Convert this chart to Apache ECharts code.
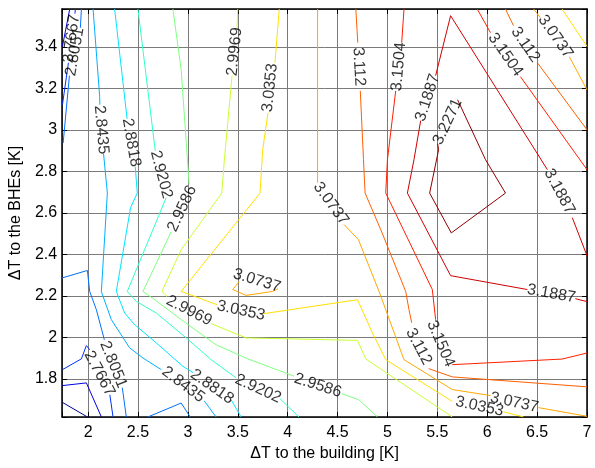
<!DOCTYPE html>
<html>
<head>
<meta charset="utf-8">
<script src="https://cdn.jsdelivr.net/npm/echarts/dist/echarts.min.js"></script>
<style>html,body{margin:0;padding:0;background:#fff}#c{width:595px;height:468px}</style>
</head>
<body>
<div id="c"></div>
<script>
// ---- data (data units) ----
const levels = [2.69, 2.7284, 2.7667, 2.8051, 2.8435, 2.8818, 2.9202, 2.9586, 2.9969, 3.0353, 3.0737, 3.112, 3.1504, 3.1887, 3.2271];

const c2690 = [
  [[1.743,1.687],[1.993,1.617]]
];
const c2728 = [
  [[1.816,3.583],[1.743,3.403]],
  [[1.740,1.768],[1.983,1.781],[2.133,1.617]]
];
const c2767 = [
  [[1.873,3.583],[1.868,3.561]],
  [[1.803,3.324],[1.743,3.122]],
  [[1.743,1.845],[1.933,1.897],[1.983,1.961],[2.016,1.941]],
  [[2.218,1.724],[2.250,1.617]]
];
const c2805 = [
  [[1.933,3.583],[1.923,3.493]],
  [[1.813,3.262],[1.750,2.937]],
  [[1.740,2.287],[1.993,2.323],[2.016,2.222],[2.083,2.134],[2.163,1.989]],
  [[2.343,1.758],[2.383,1.617]],
  [[2.600,1.617],[2.933,1.684],[3.023,1.617]]
];
const c2843 = [
  [[2.050,3.583],[2.116,3.162],[2.118,3.122]],
  [[2.155,2.886],[2.193,2.696],[2.133,2.221],[2.233,2.086],[2.416,1.950],[2.550,1.901],[2.733,1.845]],
  [[3.163,1.695],[3.283,1.617]]
];
const c2882 = [
  [[2.266,3.583],[2.391,3.054]],
  [[2.473,2.823],[2.493,2.696],[2.426,2.626],[2.283,2.222],[2.366,2.118],[2.466,2.062],[2.683,1.974],[2.950,1.861],[3.053,1.830]],
  [[3.433,1.700],[3.533,1.617]]
];
const c2920 = [
  [[2.500,3.583],[2.673,2.900]],
  [[2.783,2.674],[2.393,2.222],[2.483,2.174],[2.683,2.118],[2.983,1.998],[3.233,1.893],[3.483,1.806]],
  [[3.923,1.705],[4.113,1.617]]
];
const c2959 = [
  [[2.850,3.583],[2.933,3.291],[3.013,2.736]],
  [[2.833,2.510],[2.550,2.222],[2.683,2.177],[2.933,2.086],[3.283,1.965],[3.600,1.897],[4.063,1.814]],
  [[4.543,1.729],[4.713,1.700],[4.900,1.617]]
];
const c2997 = [
  [[3.500,3.583],[3.493,3.493]],
  [[3.443,3.262],[3.366,2.857],[3.340,2.696],[2.933,2.423],[2.740,2.222],[2.793,2.197]],
  [[3.233,2.067],[3.583,1.998],[4.700,1.986],[4.783,1.896],[5.650,1.617]]
];
const c3035 = [
  [[3.916,3.583],[3.873,3.324]],
  [[3.803,3.083],[3.750,2.905],[3.723,2.696],[2.933,2.222],[3.293,2.158]],
  [[3.763,2.115],[4.700,2.182],[4.850,2.022],[4.983,1.893],[5.650,1.692]],
  [[6.163,1.642],[6.363,1.617]],
  [[6.750,3.583],[7.000,3.403]]
];
const c3074 = [
  [[4.300,3.583],[4.300,2.746]],
  [[4.566,2.544],[4.710,2.471],[4.916,2.222],[4.983,2.134],[5.166,1.893],[5.650,1.749],[6.033,1.720]],
  [[6.513,1.662],[7.000,1.620]],
  [[6.466,3.583],[6.533,3.541]],
  [[6.823,3.353],[7.000,3.194]],
  [[3.513,2.269],[3.450,2.231],[3.583,2.203],[3.850,2.222],[3.903,2.235]]
];
const c3112 = [
  [[4.683,3.583],[4.703,3.421]],
  [[4.728,3.189],[4.760,2.857],[4.776,2.696],[4.933,2.520],[5.183,2.222],[5.216,2.134],[5.243,2.071]],
  [[5.413,1.850],[5.650,1.810],[7.000,1.762]],
  [[6.183,3.583],[6.263,3.503]],
  [[6.503,3.324],[7.000,3.001]]
];
const c3150 = [
  [[5.166,3.583],[5.143,3.421]],
  [[5.083,3.189],[5.000,2.857],[4.983,2.696],[5.450,2.231],[5.483,2.086]],
  [[5.650,1.869],[6.750,1.896],[7.000,1.925]],
  [[5.900,3.583],[6.033,3.469]],
  [[6.333,3.257],[7.000,2.809]]
];
const c3189 = [
  [[7.000,2.394],[6.853,2.577]],
  [[6.603,2.809],[5.633,3.551],[5.483,3.262]],
  [[5.333,3.045],[5.266,2.857],[5.200,2.696],[5.633,2.298],[6.403,2.231]],
  [[6.883,2.187],[7.000,2.173]]
];
const c3227 = [
  [[5.703,3.146],[5.983,2.857],[6.183,2.696],[5.640,2.504],[5.423,2.696],[5.513,2.905],[5.503,2.934]]
];
const contours = [c2690, c2728, c2767, c2805, c2843, c2882, c2920, c2959, c2997, c3035, c3074, c3112, c3150, c3189, c3227];

// inline contour labels: [x, y, text]
const labelPoints = [
  [1.833,3.440,'2.7667'],[1.868,3.377,'2.8051'],[2.133,3.001,'2.8435'],[2.433,2.939,'2.8818'],
  [2.733,2.785,'2.9202'],[2.943,2.621,'2.9586'],[3.468,3.377,'2.9969'],[3.823,3.204,'3.0353'],
  [4.713,3.305,'3.112'],[5.113,3.305,'3.1504'],[5.403,3.156,'3.1887'],[5.603,3.040,'3.2271'],
  [6.183,3.363,'3.1504'],[6.383,3.411,'3.112'],[6.683,3.450,'3.0737'],[6.723,2.703,'3.1887'],
  [6.643,2.211,'3.1887'],[4.433,2.645,'3.0737'],[3.693,2.274,'3.0737'],[3.533,2.129,'3.0353'],
  [3.013,2.129,'2.9969'],[5.313,1.956,'3.112'],[5.533,1.970,'3.1504'],[6.273,1.686,'3.0737'],
  [5.923,1.667,'3.0353'],[4.303,1.768,'2.9586'],[3.703,1.753,'2.9202'],[3.243,1.763,'2.8818'],
  [2.953,1.773,'2.8435'],[2.253,1.869,'2.8051'],[2.113,1.826,'2.7667']
];

// ---- styles ----
const levelColors = ['#00008c','#0000e0','#0030ff','#0070ff','#00b0ff','#00e6ff','#30ffc8','#80ff80','#c8ff30','#ffe000','#ffa800','#ff6000','#ff2000','#d00000','#900000'];
const labelRotations = [82,80,-85,-80,-75,65,84,84,-87,85,72,65,-55,-55,-55,-62,-10,-54,-17,-12,-27,-62,-67,-12,-12,-18,-25,-35,-37,-68,-62];

const FONT = 'Liberation Sans, Arial, Helvetica, sans-serif';
const xMin = 1.74, xMax = 7, yMin = 1.6167, yMax = 3.5833;

const series = [];
contours.forEach((segs, i) => {
  segs.forEach(seg => {
    series.push({
      type: 'line', data: seg, showSymbol: false, symbol: 'none', silent: true,
      lineStyle: { color: levelColors[i], width: 1 }, z: 3, animation: false
    });
  });
});
series.push({
  type: 'scatter', silent: true, animation: false, symbolSize: 1,
  itemStyle: { color: 'rgba(0,0,0,0)' }, z: 5,
  data: labelPoints.map((p, k) => ({
    value: [p[0], p[1]],
    label: { show: true, position: 'inside', formatter: p[2], rotate: labelRotations[k],
             fontSize: 16, color: '#000', fontFamily: FONT }
  }))
});

function fmtX(v){ const r = Math.round(v*2)/2; return Math.abs(v-r) < 1e-6 ? String(r) : ''; }
function fmtY(v){ const r = Math.round(v*5)/5; return Math.abs(v-r) < 1e-6 ? String(+r.toFixed(1)) : ''; }

const axisCommon = {
  axisLine: { show: true, onZero: false, lineStyle: { color: '#000', width: 1.5 } },
  axisTick: { show: true, inside: true, length: 5, lineStyle: { color: '#000', width: 1 } },
};

const option = {
  backgroundColor: '#fff',
  animation: false,
  grid: { left: 61, right: 8, top: 9, bottom: 51, containLabel: false },
  xAxis: [
    Object.assign({
      type: 'value', min: xMin, max: xMax, splitNumber: 10, minInterval: 0.5, maxInterval: 0.5,
      position: 'bottom',
      axisLabel: { formatter: fmtX, fontSize: 16, color: '#000', fontFamily: FONT, margin: 8 },
      splitLine: { show: true, lineStyle: { color: '#7a7a7a', width: 1 } },
      name: 'ΔT to the building [K]', nameLocation: 'middle', nameGap: 28,
      nameTextStyle: { fontSize: 16, color: '#000', fontFamily: FONT }
    }, axisCommon),
    Object.assign({
      type: 'value', min: xMin, max: xMax, splitNumber: 10, minInterval: 0.5, maxInterval: 0.5,
      position: 'top', axisLabel: { show: false }, splitLine: { show: false }
    }, axisCommon)
  ],
  yAxis: [
    Object.assign({
      type: 'value', min: yMin, max: yMax, splitNumber: 10, minInterval: 0.2, maxInterval: 0.2,
      position: 'left',
      axisLabel: { formatter: fmtY, fontSize: 16, color: '#000', fontFamily: FONT, margin: 5 },
      splitLine: { show: true, lineStyle: { color: '#7a7a7a', width: 1 } },
      name: 'ΔT to the BHEs [K]', nameLocation: 'middle', nameGap: 32, nameRotate: 90,
      nameTextStyle: { fontSize: 16, color: '#000', fontFamily: FONT }
    }, axisCommon),
    Object.assign({
      type: 'value', min: yMin, max: yMax, splitNumber: 10, minInterval: 0.2, maxInterval: 0.2,
      position: 'right', axisLabel: { show: false }, splitLine: { show: false }
    }, axisCommon)
  ],
  series: series
};

const chart = echarts.init(document.getElementById('c'), null, { renderer: 'canvas' });
chart.setOption(option);
</script>
</body>
</html>
